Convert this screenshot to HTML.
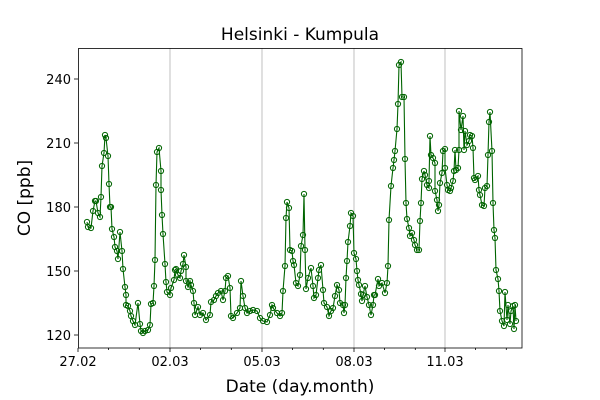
<!DOCTYPE html>
<html><head><meta charset="utf-8"><style>body{margin:0;background:#fff}svg{display:block}text{font-family:"DejaVu Sans","Liberation Sans",sans-serif;fill:#000}</style></head><body>
<svg width="600" height="400" viewBox="0 0 600 400" xmlns="http://www.w3.org/2000/svg">
<defs>
<marker id="m" markerUnits="userSpaceOnUse" markerWidth="8" markerHeight="8" refX="4" refY="4" overflow="visible">
<circle cx="4" cy="4" r="2.6" fill="none" stroke="#006400" stroke-width="1"/>
</marker>
</defs>
<rect width="600" height="400" fill="#fff"/>
<g stroke="#b0b0b0" stroke-width="0.8">
<line x1="170" y1="48" x2="170" y2="348"/><line x1="262" y1="48" x2="262" y2="348"/><line x1="354" y1="48" x2="354" y2="348"/><line x1="445" y1="48" x2="445" y2="348"/>
</g>
<polyline fill="none" stroke="#006400" stroke-width="1.1" marker-start="url(#m)" marker-mid="url(#m)" marker-end="url(#m)" points="87,222 88,227 91,228 93,211 95,201 96,201 98,213 100,217 101,197 102,166 104,153 105,135 106,138 108,156 109,184 110,207 111,207 112,229 114,237 115,247 117,251 118,259 120,232 122,251 123,269 125,287 126,295 126,305 128,306 130,311 131,316 133,321 135,325 138,303 140,324 141,331 143,333 145,331 148,330 150,325 151,304 153,303 154,286 155,260 156,185 157,152 159,148 161,171 161,190 162,215 163,234 165,264 166,282 167,292 170,295 171,288 174,280 175,270 176,269 178,275 180,278 181,271 183,264 184,255 186,267 186,281 188,287 190,281 191,285 193,291 194,303 195,315 198,307 200,315 203,313 206,320 210,315 211,302 214,300 216,296 218,293 221,291 223,300 225,291 226,278 228,276 230,288 231,316 233,318 237,313 240,308 241,281 243,296 245,308 247,313 250,311 253,310 257,311 260,318 263,321 267,322 270,315 272,305 273,308 277,313 280,316 282,313 283,291 285,266 286,218 287,202 289,208 290,250 292,251 293,261 294,265 296,283 298,286 300,275 301,246 303,235 304,194 305,250 306,289 308,278 311,268 313,286 314,298 316,295 318,278 319,270 321,265 323,290 324,303 327,307 329,316 331,311 333,308 335,296 337,285 339,290 340,303 343,305 344,313 345,305 346,278 347,261 348,242 350,226 351,213 353,216 354,253 356,259 357,271 358,280 359,285 361,294 362,301 363,295 365,286 367,297 369,305 371,315 373,305 374,295 375,295 378,279 379,286 382,283 385,293 387,283 388,266 389,220 391,186 393,168 394,160 395,151 397,129 398,104 399,65 401,62 402,97 404,97 405,159 406,203 407,219 409,228 410,236 412,233 414,240 415,245 417,250 419,250 420,221 421,203 422,179 424,171 425,175 427,185 429,188 429,181 430,136 431,155 433,158 435,163 435,191 437,200 438,211 439,205 440,183 442,173 443,151 445,149 445,168 447,185 448,190 450,191 451,188 453,181 454,171 455,150 456,170 458,168 459,150 459,111 461,130 463,116 464,150 465,131 467,145 469,141 470,135 472,136 473,148 474,178 475,180 478,176 479,190 480,195 482,205 484,206 485,188 487,186 488,155 489,122 490,112 492,151 493,203 494,230 495,238 496,270 498,279 499,291 500,311 502,321 504,326 505,292 507,320 508,305 510,324 511,311 513,306 514,329 515,305 516,321"/>
<rect x="78.5" y="48.5" width="443.5" height="299.5" fill="none" stroke="#000" stroke-width="0.8"/>
<g stroke="#000" stroke-width="0.8">
<line x1="78" y1="348" x2="78" y2="352"/><line x1="170" y1="348" x2="170" y2="352"/><line x1="262" y1="348" x2="262" y2="352"/><line x1="354" y1="348" x2="354" y2="352"/><line x1="445" y1="348" x2="445" y2="352"/>
<line x1="108.6" y1="348" x2="108.6" y2="350"/><line x1="139.3" y1="348" x2="139.3" y2="350"/><line x1="200.6" y1="348" x2="200.6" y2="350"/><line x1="231.3" y1="348" x2="231.3" y2="350"/><line x1="292.6" y1="348" x2="292.6" y2="350"/><line x1="323.3" y1="348" x2="323.3" y2="350"/><line x1="384.6" y1="348" x2="384.6" y2="350"/><line x1="415.3" y1="348" x2="415.3" y2="350"/><line x1="475.6" y1="348" x2="475.6" y2="350"/><line x1="506.3" y1="348" x2="506.3" y2="350"/>
<line x1="74" y1="335" x2="78" y2="335"/><line x1="74" y1="271" x2="78" y2="271"/><line x1="74" y1="207" x2="78" y2="207"/><line x1="74" y1="143" x2="78" y2="143"/><line x1="74" y1="79" x2="78" y2="79"/>
</g>
<g font-size="13" text-anchor="middle">
<text x="78" y="366">27.02</text><text x="170" y="366">02.03</text><text x="262" y="366">05.03</text><text x="354" y="366">08.03</text><text x="445" y="366">11.03</text>
</g>
<g font-size="13" text-anchor="end">
<text x="71" y="340">120</text><text x="71" y="276">150</text><text x="71" y="212">180</text><text x="71" y="148">210</text><text x="71" y="84">240</text>
</g>
<text x="300" y="40" font-size="17" text-anchor="middle">Helsinki - Kumpula</text>
<text x="300" y="392" font-size="17" text-anchor="middle">Date (day.month)</text>
<text transform="translate(30,198) rotate(-90)" font-size="17" text-anchor="middle">CO [ppb]</text>
</svg>
</body></html>
